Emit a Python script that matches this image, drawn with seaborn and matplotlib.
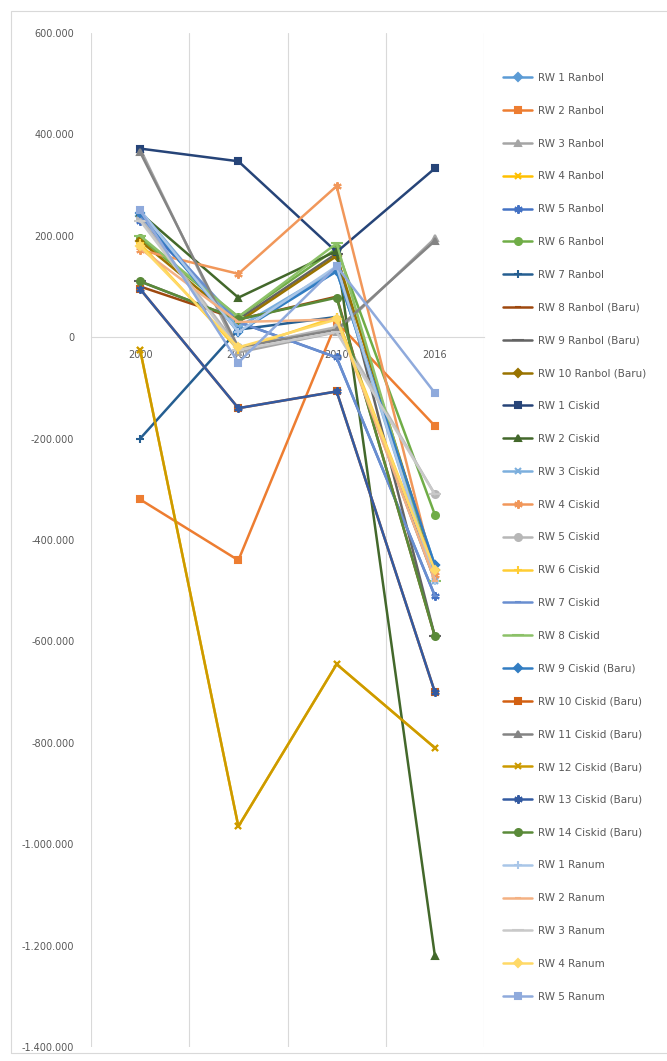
import matplotlib
matplotlib.use("Agg")
import matplotlib.pyplot as plt
import seaborn as sns
import pandas as pd
from matplotlib.ticker import FuncFormatter, FixedLocator
from matplotlib.lines import Line2D
from matplotlib.patches import Rectangle

years = ["2000", "2005", "2010", "2016"]
series = [
    "RW 1 Ranbol", "RW 2 Ranbol", "RW 3 Ranbol", "RW 4 Ranbol", "RW 5 Ranbol",
    "RW 6 Ranbol", "RW 7 Ranbol", "RW 8 Ranbol (Baru)", "RW 9 Ranbol (Baru)",
    "RW 10 Ranbol (Baru)", "RW 1 Ciskid", "RW 2 Ciskid", "RW 3 Ciskid",
    "RW 4 Ciskid", "RW 5 Ciskid", "RW 6 Ciskid", "RW 7 Ciskid", "RW 8 Ciskid",
    "RW 9 Ciskid (Baru)", "RW 10 Ciskid (Baru)", "RW 11 Ciskid (Baru)",
    "RW 12 Ciskid (Baru)", "RW 13 Ciskid (Baru)", "RW 14 Ciskid (Baru)",
    "RW 1 Ranum", "RW 2 Ranum", "RW 3 Ranum", "RW 4 Ranum", "RW 5 Ranum",
]
v2000 = [240000, -320000, 372000, -25000, 230000, 195000, -200000, 100000, 110000, 190000,
         372000, 245000, 250000, 172000, 235000, 185000, 240000, 200000, 245000, 95000,
         365000, -25000, 95000, 110000, 250000, 175000, 230000, 180000, 250000]
v2005 = [20000, -440000, -30000, -965000, 30000, 40000, 15000, 35000, 35000, 30000,
         347000, 78000, 20000, 125000, -20000, -25000, 30000, 40000, 10000, -140000,
         -20000, -965000, -140000, 35000, 10000, 30000, -25000, -20000, -50000]
v2010 = [130000, 30000, 10000, -645000, -40000, 175000, 40000, 80000, 165000, 160000,
         168000, 170000, 135000, 298000, 20000, 40000, -40000, 185000, 130000, -107000,
         15000, -645000, -107000, 78000, 140000, 35000, 10000, 35000, 140000]
v2016 = [-450000, -175000, 195000, -810000, -510000, -350000, -480000, -590000, -590000, -460000,
         333000, -1220000, -480000, -470000, -310000, -460000, -510000, -480000, -450000, -700000,
         190000, -810000, -700000, -590000, -480000, -480000, -310000, -460000, -110000]

colors = ["#5B9BD5", "#ED7D31", "#A5A5A5", "#FFC000", "#4472C4", "#70AD47",
          "#255E91", "#9E480E", "#636363", "#997300", "#264478", "#43682B",
          "#7CAFDD", "#F1975A", "#B7B7B7", "#FFCD33", "#698ED0", "#8CC168",
          "#327DC2", "#D26012", "#848484", "#CC9A00", "#335AA1", "#5A8A39",
          "#A9C6E8", "#F4B183", "#C9C9C9", "#FFD966", "#8FAADC"]
star = (6, 2, 0)
marker_cycle = ["D", "s", "^", "x", star, "o", "+", "_", "_"]
size_cycle = [4, 5, 5, 5, 6, 5, 6, 5, 8]

rows = []
for i, name in enumerate(series):
    for y, vals in zip(years, [v2000, v2005, v2010, v2016]):
        rows.append({"year": y, "value": vals[i], "series": name})
df = pd.DataFrame(rows)

palette = {name: colors[i] for i, name in enumerate(series)}

sns.set_style("white")
plt.rcParams["font.family"] = ["DejaVu Sans"]

fig = plt.figure(figsize=(6.67, 10.61), dpi=100)
ax = fig.add_axes([91 / 667, 1 - 1047 / 1061, (484 - 91) / 667, (1047 - 33) / 1061])

sns.lineplot(data=df, x="year", y="value", hue="series",
             hue_order=series, palette=palette, sort=False, linewidth=1.8,
             legend=False, ax=ax)

for i, line in enumerate(ax.get_lines()):
    c = line.get_color()
    line.set_marker(marker_cycle[i % 9])
    line.set_markeredgecolor(c)
    line.set_markerfacecolor(c)
    line.set_markersize(size_cycle[i % 9])
    line.set_markeredgewidth(1.5)

ax.set_xlim(-0.5, 3.5)
ax.set_ylim(-1400000, 600000)
ax.set_xlabel("")
ax.set_ylabel("")
ax.yaxis.set_major_locator(FixedLocator(list(range(-1400000, 600001, 200000))))

def fmt(v, pos):
    v = int(round(v))
    s = f"{abs(v):,}".replace(",", ".")
    return ("-" if v < 0 else "") + s

ax.yaxis.set_major_formatter(FuncFormatter(fmt))
ax.tick_params(axis="y", length=0, labelsize=7, labelcolor="#595959", pad=12)
ax.tick_params(axis="x", length=0, labelsize=7, labelcolor="#595959", pad=9)

for xb in [-0.5, 0.5, 1.5, 2.5, 3.5]:
    ax.axvline(xb, color="#D9D9D9", lw=0.8, zorder=0)
for s in ["top", "right", "left"]:
    ax.spines[s].set_visible(False)
ax.spines["bottom"].set_position(("data", 0))
ax.spines["bottom"].set_color("#D9D9D9")
ax.spines["bottom"].set_linewidth(0.8)
ax.spines["bottom"].set_zorder(0)
ax.grid(False)

handles = []
for i, name in enumerate(series):
    handles.append(Line2D([0], [0], color=colors[i], lw=1.8,
                          marker=marker_cycle[i % 9], markersize=size_cycle[i % 9],
                          markerfacecolor=colors[i], markeredgecolor=colors[i],
                          markeredgewidth=1.5))
leg = fig.legend(handles, series, loc="upper left", bbox_to_anchor=(503 / 667, 1 - 73 / 1061),
                 frameon=False, fontsize=7.5, labelspacing=2.19, handlelength=2.8,
                 handletextpad=0.55, borderaxespad=0, borderpad=0)
for t in leg.get_texts():
    t.set_color("#595959")

fig.patches.append(Rectangle((11 / 667, 8 / 1061), 660 / 667, 1042 / 1061,
                             transform=fig.transFigure, fill=False,
                             edgecolor="#D9D9D9", lw=0.8))

fig.savefig("out.png", dpi=100)
